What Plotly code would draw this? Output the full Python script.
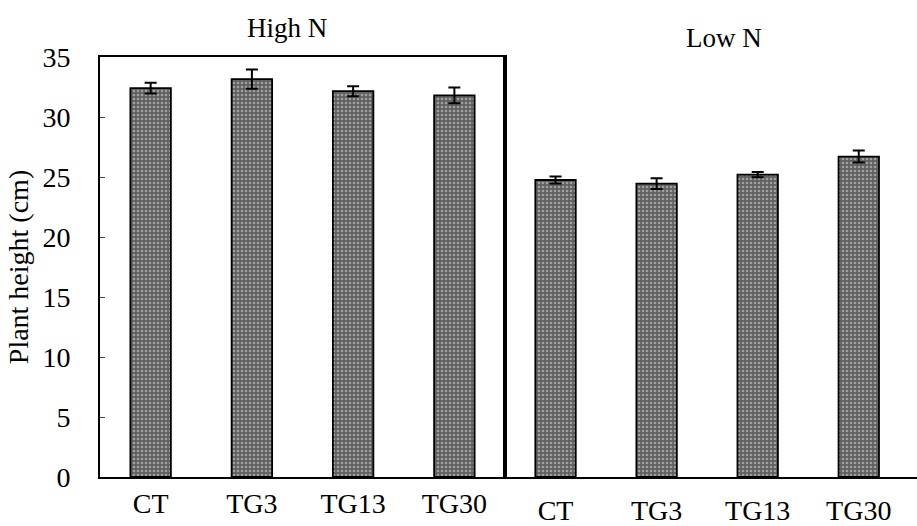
import plotly.graph_objects as go

categories = ["CT", "TG3", "TG13", "TG30"]
high_n = [32.4, 33.15, 32.15, 31.8]
high_n_err = [0.45, 0.8, 0.42, 0.65]
low_n = [24.75, 24.45, 25.2, 26.7]
low_n_err = [0.3, 0.45, 0.22, 0.5]
y_ticks = [0, 5, 10, 15, 20, 25, 30, 35]

FONT = "Liberation Serif, Times New Roman, serif"
marker = dict(
    color="#7a7a7a",
    line=dict(color="black", width=1.8),
    pattern=dict(shape=".", bgcolor="#606060", fgcolor="#e0e0e0", size=4, solidity=0.35),
)
err = dict(type="data", color="black", thickness=2, width=6)

fig = go.Figure()
fig.add_trace(go.Bar(x=categories, y=high_n, error_y=dict(array=high_n_err, **err),
                     marker=marker, xaxis="x", yaxis="y", showlegend=False))
fig.add_trace(go.Bar(x=categories, y=low_n, error_y=dict(array=low_n_err, **err),
                     marker=marker, xaxis="x2", yaxis="y2", showlegend=False))

T, B, L = 57, 49, 100
ph = 526 - T - B
split = 405 / 817
fig.update_layout(
    width=917, height=526,
    margin=dict(l=L, r=0, t=T, b=B, autoexpand=False),
    paper_bgcolor="white", plot_bgcolor="white",
    font=dict(family=FONT, size=28, color="black"),
    bargap=0.6,
    xaxis=dict(domain=[0, split], showline=True, linecolor="black", linewidth=2, mirror=True,
               ticks="", ticklabelstandoff=0, range=[-0.5, 3.5], automargin=False),
    xaxis2=dict(domain=[split, 1], anchor="y2", showline=True, linecolor="black", linewidth=2,
                ticks="", ticklabelstandoff=7, range=[-0.5, 3.5 + 8 / 105], automargin=False),
    yaxis=dict(range=[0, 35], tickvals=y_ticks, showline=True, linecolor="black", linewidth=2,
               mirror=True, ticks="inside", ticklen=5, tickwidth=1, showgrid=False, zeroline=False,
               ticklabelstandoff=22, automargin=False,
               title=dict(text="Plant height (cm)", font=dict(size=28), standoff=6)),
    yaxis2=dict(range=[0, 35], anchor="x2", showline=True, linecolor="black", linewidth=2,
                showticklabels=False, ticks="", showgrid=False, zeroline=False, automargin=False),
    annotations=[
        dict(text="High N", x=(287 - 100) / 405, xref="x domain", y=(477 - 28) / ph, yref="paper",
             yanchor="middle", showarrow=False, font=dict(size=27)),
        dict(text="Low N", x=(724 - 505) / 412, xref="x2 domain", y=(477 - 38) / ph, yref="paper",
             yanchor="middle", showarrow=False, font=dict(size=27)),
    ],
)
fig.write_html("out.html", config={"displayModeBar": False},
               post_script="document.body.style.margin='0';")
